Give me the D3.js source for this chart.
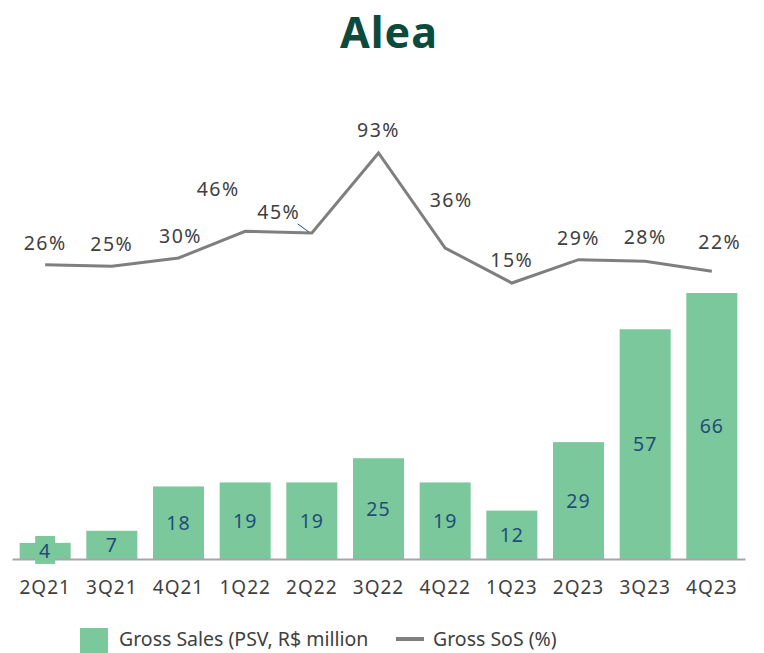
<!DOCTYPE html>
<html>
<head>
<meta charset="utf-8">
<script src="https://cdn.jsdelivr.net/npm/d3@7"></script>
<style>
  body { margin: 0; background: #fff; }
  text { font-family: "Noto Sans", sans-serif; }
</style>
</head>
<body>
<svg id="chart" width="764" height="653"></svg>
<script>
var quarters = ["2Q21", "3Q21", "4Q21", "1Q22", "2Q22", "3Q22", "4Q22", "1Q23", "2Q23", "3Q23", "4Q23"];
var grossSales = [4, 7, 18, 19, 19, 25, 19, 12, 29, 57, 66];
var grossSoS = [26, 25, 30, 46, 45, 93, 36, 15, 29, 28, 22];

// label offsets for the percent labels (dx, dy from the point)
var sosLabelOffset = [[0, -22], [0, -22], [2, -22], [-27, -42], [-33, -21], [0, -23], [6, -48], [0, -23], [0, -22], [0, -24], [8, -29]];

var svg = d3.select("#chart");

var green = "#7ac89b";
var gray = "#7f7f7f";
var textGray = "#404040";
var navy = "#1f4e79";

var x = d3.scaleBand()
    .domain(quarters)
    .range([12, 745])
    .paddingInner(0.235)
    .paddingOuter(0.115);

var yBar = d3.scaleLinear().domain([0, 66]).range([559, 293]);
var yLine = d3.scaleLinear().domain([15, 93]).range([283, 153]);

// logo
svg.append("text")
    .attr("x", 389)
    .attr("y", 48)
    .attr("text-anchor", "middle")
    .attr("fill", "#0c4a3e")
    .style("font-family", "'Noto Sans', sans-serif")
    .style("font-weight", 700)
    .style("font-size", "43px")
    .style("letter-spacing", "1px")
    .text("Alea");

// bars
svg.append("g").selectAll("rect")
    .data(grossSales)
    .enter().append("rect")
    .attr("x", function(d, i) { return x(quarters[i]); })
    .attr("y", function(d) { return yBar(d); })
    .attr("width", x.bandwidth())
    .attr("height", function(d) { return yBar(0) - yBar(d); })
    .attr("fill", green);

// axis line
var xAxis = d3.axisBottom(x).tickSize(0).tickPadding(22);
var gx = svg.append("g")
    .attr("transform", "translate(0," + yBar(0) + ")")
    .call(xAxis);
gx.select(".domain").attr("stroke", "#a6a6a6").attr("stroke-width", 2);
gx.selectAll("text")
    .attr("fill", textGray)
    .style("font-size", "19px")
    .style("letter-spacing", "1px")
    .style("font-family", "'Noto Sans', sans-serif");

// bar value labels
var barLabels = svg.append("g");
grossSales.forEach(function(d, i) {
    var cx = x(quarters[i]) + x.bandwidth() / 2;
    var cy = (yBar(d) + yBar(0)) / 2;
    if (i === 0) {
        barLabels.append("rect")
            .attr("x", cx - 10)
            .attr("y", cy - 15)
            .attr("width", 20)
            .attr("height", 28)
            .attr("fill", green);
    }
    barLabels.append("text")
        .attr("x", cx)
        .attr("y", cy + 7)
        .attr("text-anchor", "middle")
        .attr("fill", navy)
        .style("font-size", "19.5px")
        .style("letter-spacing", "1px")
        .text(d);
});

// line
var line = d3.line()
    .x(function(d, i) { return x(quarters[i]) + x.bandwidth() / 2; })
    .y(function(d) { return yLine(d); });

svg.append("path")
    .datum(grossSoS)
    .attr("d", line)
    .attr("fill", "none")
    .attr("stroke", gray)
    .attr("stroke-width", 3);

// leader line for 45%
var px = x(quarters[4]) + x.bandwidth() / 2;
var py = yLine(grossSoS[4]);
svg.append("line")
    .attr("x1", px - 3).attr("y1", py - 1)
    .attr("x2", px - 14).attr("y2", py - 9)
    .attr("stroke", navy)
    .attr("stroke-width", 1);

svg.append("g").selectAll("text")
    .data(grossSoS)
    .enter().append("text")
    .attr("x", function(d, i) { return x(quarters[i]) + x.bandwidth() / 2 + sosLabelOffset[i][0]; })
    .attr("y", function(d, i) { return yLine(d) + sosLabelOffset[i][1] + 7; })
    .attr("text-anchor", "middle")
    .attr("fill", textGray)
    .style("font-size", "19.5px")
    .style("letter-spacing", "1.5px")
    .text(function(d) { return d + "%"; });

// legend
var legend = svg.append("g");
legend.append("rect")
    .attr("x", 80).attr("y", 628)
    .attr("width", 28).attr("height", 25)
    .attr("fill", green);
legend.append("text")
    .attr("x", 119).attr("y", 646)
    .attr("fill", textGray)
    .style("font-size", "19.5px")
    .text("Gross Sales (PSV, R$ million");
legend.append("line")
    .attr("x1", 396).attr("x2", 424)
    .attr("y1", 639).attr("y2", 639)
    .attr("stroke", gray)
    .attr("stroke-width", 4);
legend.append("text")
    .attr("x", 433).attr("y", 646)
    .attr("fill", textGray)
    .style("font-size", "19.5px")
    .text("Gross SoS (%)");
</script>
</body>
</html>
